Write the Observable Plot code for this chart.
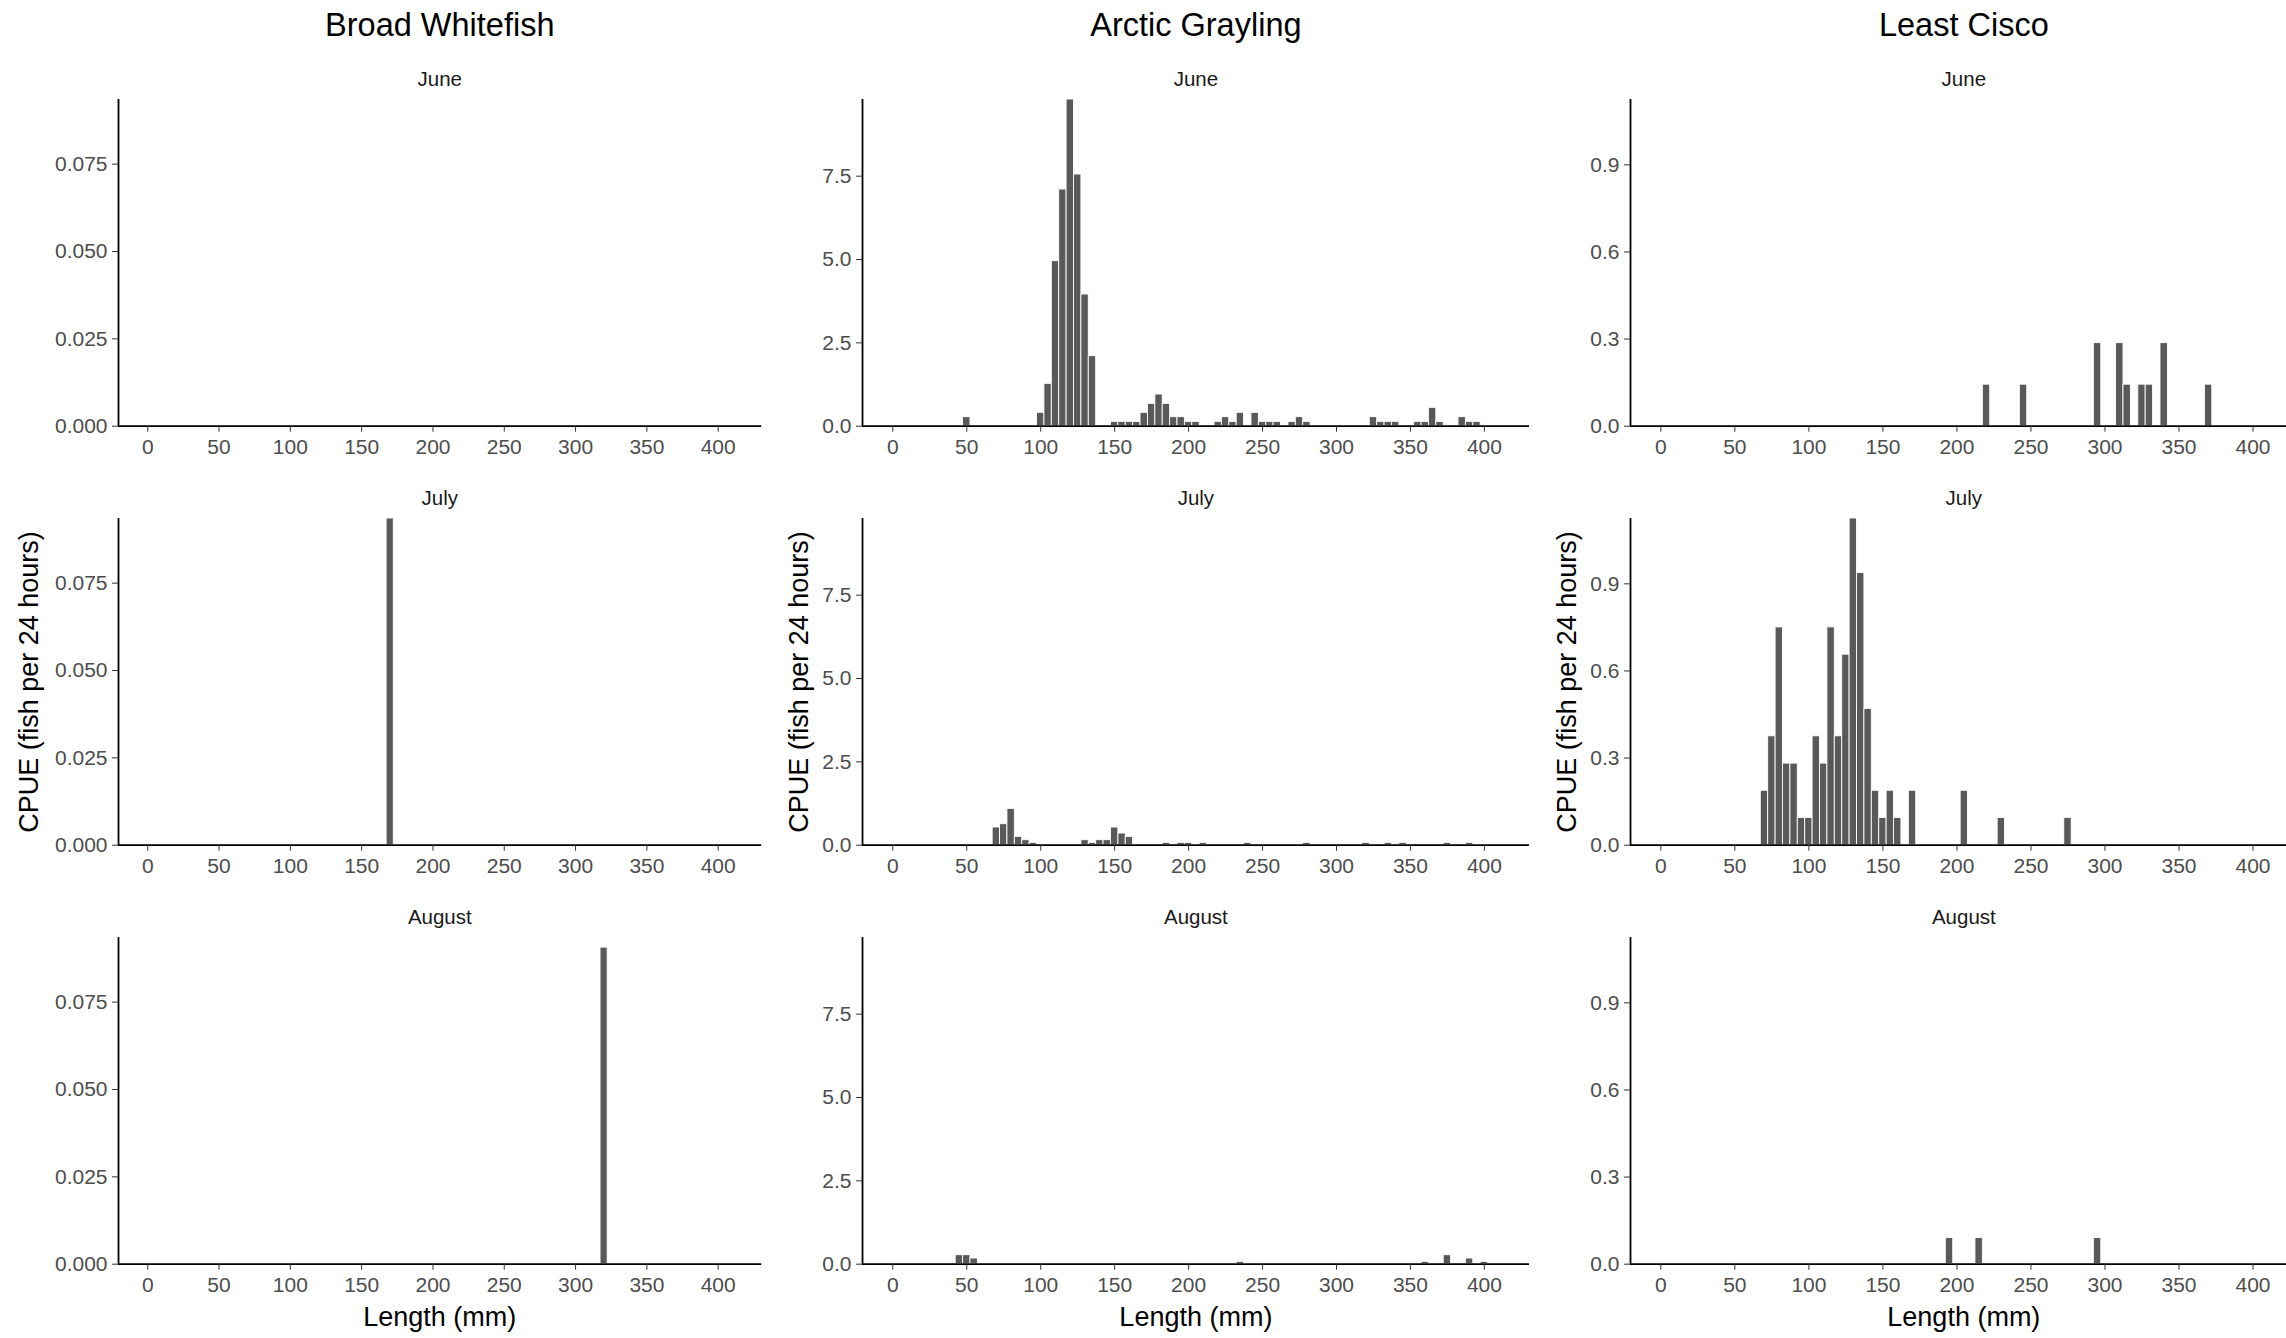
<!DOCTYPE html>
<html>
<head>
<meta charset="utf-8">
<script src="https://cdn.jsdelivr.net/npm/d3@7"></script>
<script src="https://cdn.jsdelivr.net/npm/@observablehq/plot@0.6"></script>
<style>
  html, body { margin: 0; padding: 0; background: #fff; overflow: hidden; }
  #chart { position: relative; width: 2286px; height: 1338px; overflow: hidden; background: #fff;
           font-family: "Liberation Sans", Arial, sans-serif; }
  .lbl { position: absolute; white-space: nowrap; line-height: 1; transform: translate(-50%, -50%); }
  .panel { position: absolute; }
  .panel svg { max-width: none !important; display: block; }
</style>
</head>
<body>
<div id="chart"></div>
<script>
// ---------------- data ----------------
const species = ["Broad Whitefish", "Arctic Grayling", "Least Cisco"];
const months = ["June", "July", "August"];
const xTitle = "Length (mm)";
const yTitle = "CPUE (fish per 24 hours)";
const binWidth = 5;
const xTicks = [0, 50, 100, 150, 200, 250, 300, 350, 400];

// Broad Whitefish
const bwJuneLen = [];
const bwJuneCpue = [];
const bwJulyLen = [170];
const bwJulyCpue = [0.0935];
const bwAugLen = [320];
const bwAugCpue = [0.0906];
const bwTicks = [0, 0.025, 0.05, 0.075];

// Arctic Grayling
const agJuneLen = [50, 100, 105, 110, 115, 120, 125, 130, 135, 150, 155, 160, 165, 170, 175, 180, 185, 190, 195, 200, 205,
                   220, 225, 230, 235, 245, 250, 255, 260, 270, 275, 280, 325, 330, 335, 340, 355, 360, 365, 370, 385, 390, 395];
const agJuneCpue = [0.27, 0.40, 1.27, 4.95, 7.10, 9.80, 7.55, 3.95, 2.10, 0.13, 0.13, 0.13, 0.13, 0.40, 0.67, 0.95, 0.67, 0.27, 0.27, 0.13, 0.13,
                    0.13, 0.27, 0.13, 0.40, 0.40, 0.13, 0.13, 0.13, 0.13, 0.27, 0.13, 0.27, 0.13, 0.13, 0.13, 0.13, 0.13, 0.55, 0.13, 0.27, 0.13, 0.13];
const agJulyLen = [70, 75, 80, 85, 90, 95, 130, 135, 140, 145, 150, 155, 160, 185, 195, 200, 210, 240, 280, 320, 335, 345, 375, 390];
const agJulyCpue = [0.53, 0.63, 1.09, 0.25, 0.15, 0.07, 0.15, 0.07, 0.15, 0.15, 0.53, 0.35, 0.25, 0.07, 0.07, 0.07, 0.07, 0.07, 0.07, 0.07, 0.07, 0.07, 0.07, 0.07];
const agAugLen = [45, 50, 55, 235, 360, 375, 390, 400];
const agAugCpue = [0.27, 0.27, 0.17, 0.07, 0.07, 0.27, 0.17, 0.07];
const agTicks = [0, 2.5, 5, 7.5];

// Least Cisco
const lcJuneLen = [220, 245, 295, 310, 315, 325, 330, 340, 370];
const lcJuneCpue = [0.143, 0.143, 0.286, 0.286, 0.143, 0.143, 0.143, 0.286, 0.143];
const lcJulyLen = [70, 75, 80, 85, 90, 95, 100, 105, 110, 115, 120, 125, 130, 135, 140, 145, 150, 155, 160, 170, 205, 230, 275];
const lcJulyCpue = [0.1875, 0.375, 0.75, 0.281, 0.281, 0.094, 0.094, 0.375, 0.281, 0.75, 0.375, 0.656, 1.125, 0.9375, 0.469,
                    0.1875, 0.094, 0.1875, 0.094, 0.1875, 0.1875, 0.094, 0.094];
const lcAugLen = [195, 215, 295];
const lcAugCpue = [0.09, 0.09, 0.09];
const lcTicks = [0, 0.3, 0.6, 0.9];

// ---------------- layout ----------------
const FONT = '"Liberation Sans", Arial, sans-serif';
const xDomain = [-20.5, 430.5];
const colLeft = [118.2, 862.4, 1630];
const colRight = [761.4, 1529.4, 2297.7];
const rowTop = [99, 518.2, 937];
const panelH = 326.7;
const yTitleX = [29, 799, 1567];

const series = [
  [[bwJuneLen, bwJuneCpue], [bwJulyLen, bwJulyCpue], [bwAugLen, bwAugCpue]],
  [[agJuneLen, agJuneCpue], [agJulyLen, agJulyCpue], [agAugLen, agAugCpue]],
  [[lcJuneLen, lcJuneCpue], [lcJulyLen, lcJulyCpue], [lcAugLen, lcAugCpue]]
];
const yTicks = [bwTicks, agTicks, lcTicks];
const yFmt = [d3.format(".3f"), d3.format(".1f"), d3.format(".1f")];

const chart = document.getElementById("chart");

function addLabel(text, cx, cy, size, color, rotate) {
  const d = document.createElement("div");
  d.className = "lbl";
  d.textContent = text;
  d.style.left = cx + "px";
  d.style.top = cy + "px";
  d.style.fontSize = size + "px";
  d.style.color = color;
  if (rotate) d.style.transform = "translate(-50%, -50%) rotate(-90deg)";
  chart.appendChild(d);
}

species.forEach((sp, si) => {
  const yMax = d3.max(series[si].flatMap(s => s[1])) || 0.1;
  const cx = (colLeft[si] + colRight[si]) / 2;
  addLabel(sp, cx, 25, 32.5, "#000", false);
  months.forEach((m, mi) => {
    const [lens, vals] = series[si][mi];
    const data = lens.map((len, i) => ({len, cpue: vals[i]}));
    const ml = 110, mr = 12, mt = 8, mb = 50;
    const pw = colRight[si] - colLeft[si];
    const W = ml + pw + mr, H = mt + panelH + mb;
    const svg = Plot.plot({
      width: W, height: H,
      marginLeft: ml, marginRight: mr, marginTop: mt, marginBottom: mb,
      style: {fontFamily: FONT, background: "transparent", overflow: "visible"},
      x: {domain: xDomain},
      y: {domain: [0, yMax]},
      marks: [
        Plot.rectY(data, {x1: d => d.len - binWidth / 2, x2: d => d.len + binWidth / 2, y: "cpue",
                          fill: "#595959", stroke: "white", strokeWidth: 0.9}),
        Plot.ruleY([0], {stroke: "black", strokeWidth: 1.8}),
        Plot.ruleX([xDomain[0]], {stroke: "black", strokeWidth: 1.8}),
        Plot.axisX({ticks: xTicks, tickSize: 6, tickPadding: 7, fontSize: 21, tickFormat: d => String(d),
                    fill: "#4d4d4d", stroke: "#333", label: null}),
        Plot.axisY({ticks: yTicks[si], tickSize: 6, tickPadding: 5, fontSize: 21, tickFormat: yFmt[si],
                    fill: "#4d4d4d", stroke: "#333", label: null})
      ]
    });
    const wrap = document.createElement("div");
    wrap.className = "panel";
    wrap.style.left = (colLeft[si] - ml) + "px";
    wrap.style.top = (rowTop[mi] - mt) + "px";
    wrap.style.width = W + "px";
    wrap.appendChild(svg);
    chart.appendChild(wrap);

    addLabel(m, cx, rowTop[mi] - 20, 20.5, "#1a1a1a", false);
    if (mi === 1) addLabel(yTitle, yTitleX[si], rowTop[mi] + panelH / 2, 27, "#000", true);
    if (mi === 2) addLabel(xTitle, cx, rowTop[mi] + panelH + 53, 27, "#000", false);
  });
});
</script>
</body>
</html>
